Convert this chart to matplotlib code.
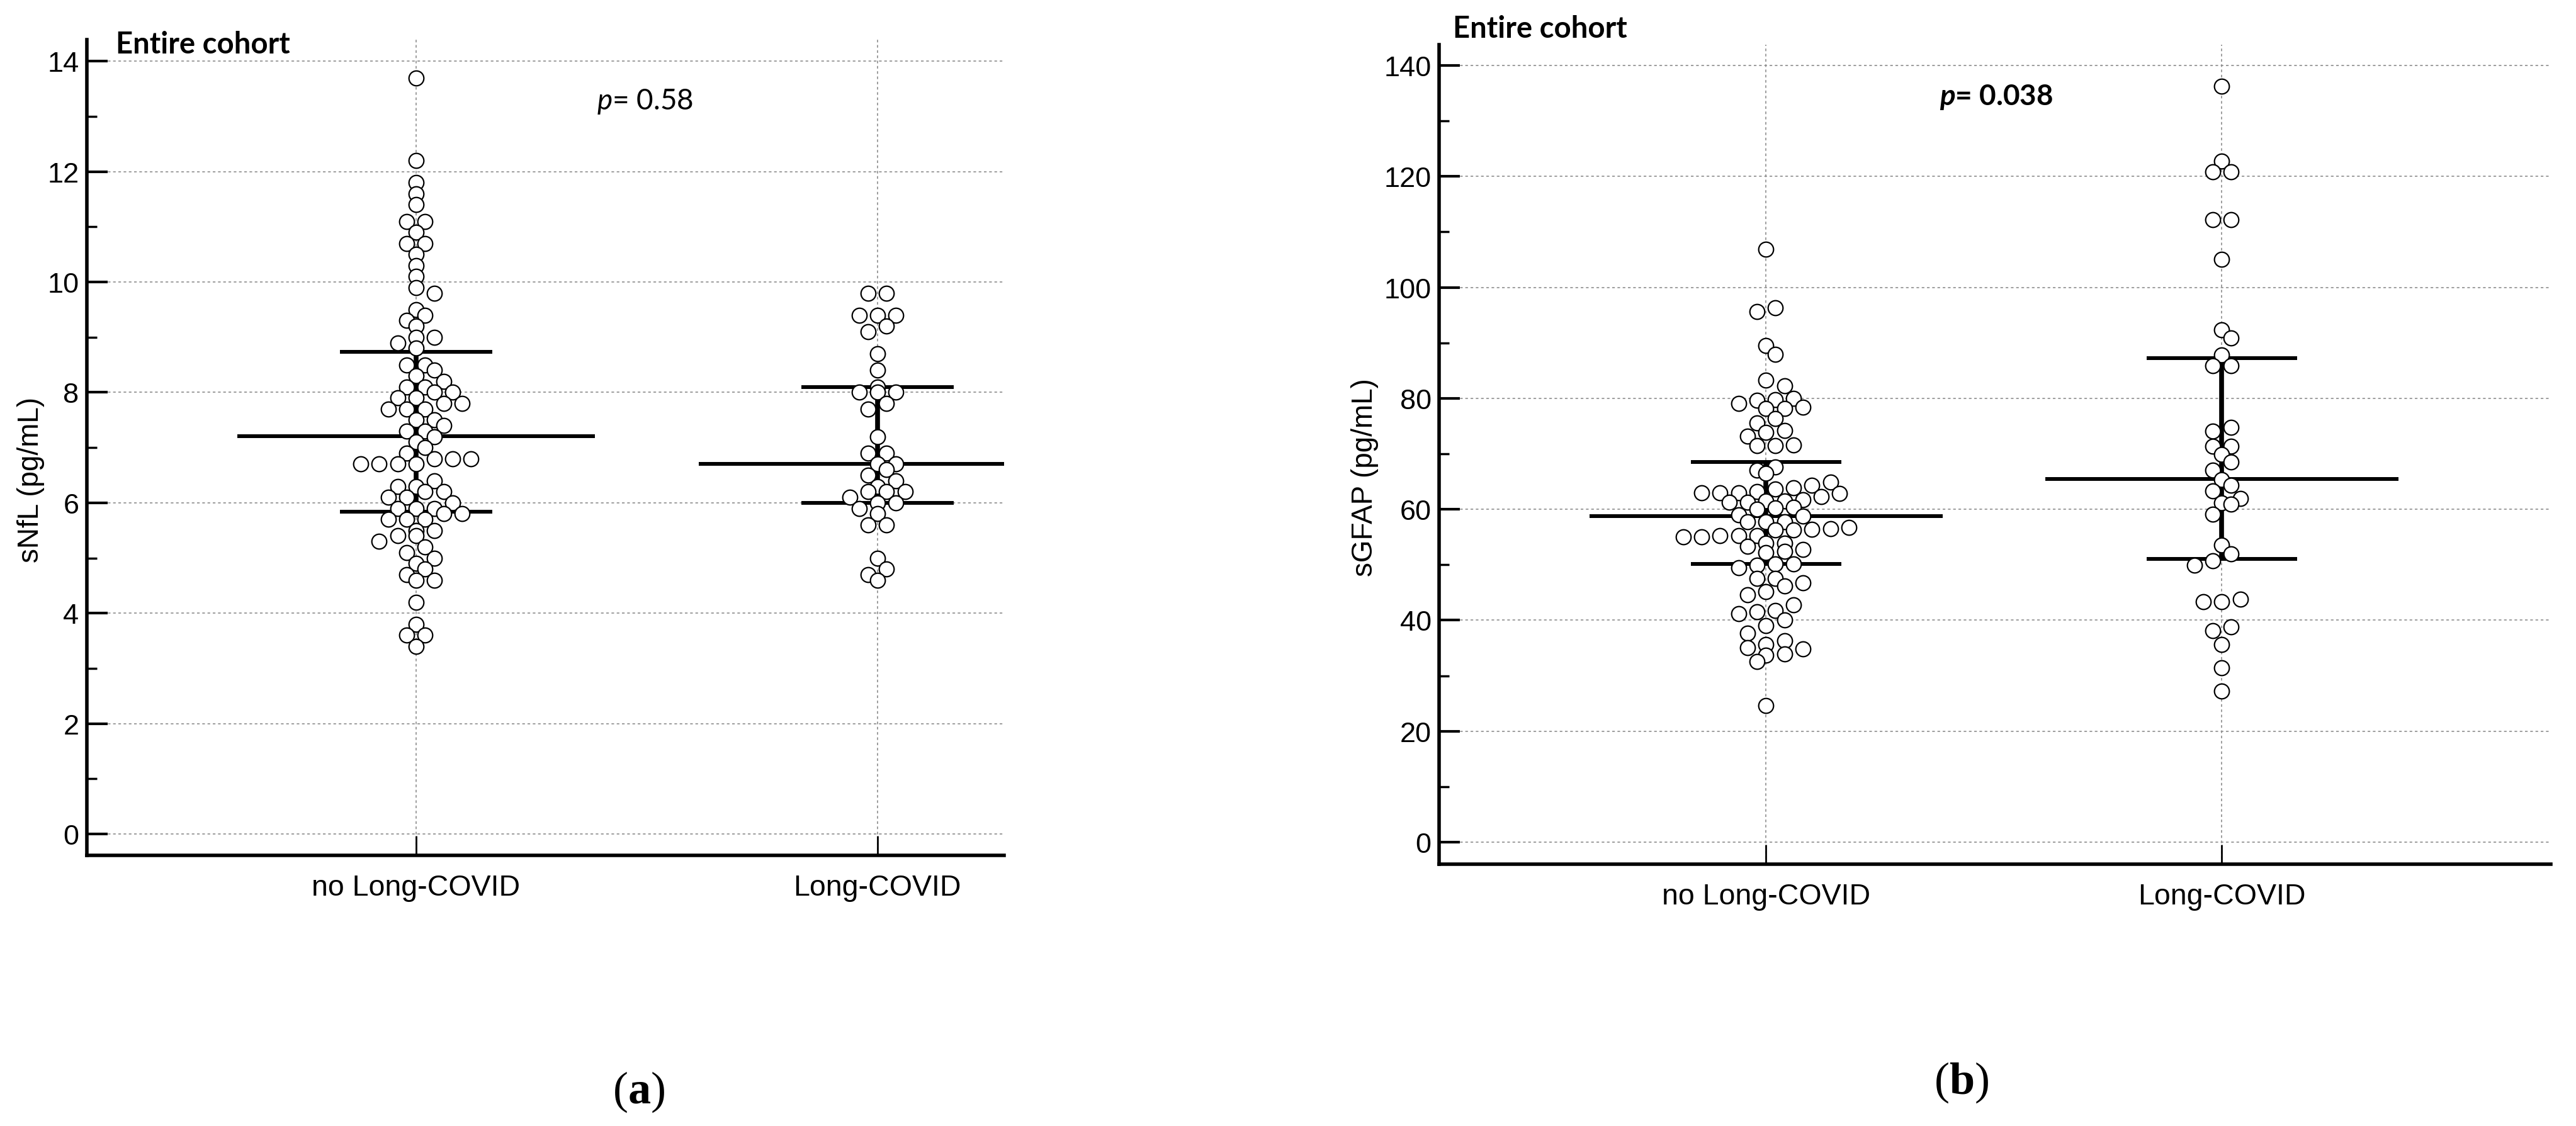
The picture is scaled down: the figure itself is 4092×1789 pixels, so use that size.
"""
sNfL / sGFAP dot plots, Long-COVID vs no Long-COVID (entire cohort)
"""
import matplotlib
matplotlib.use("Agg")
import matplotlib.pyplot as plt
import numpy as np
from matplotlib import rcParams
from matplotlib.ticker import MultipleLocator

rcParams.update({
    "font.family": ["Liberation Sans", "DejaVu Sans"],
    "mathtext.fontset": "custom",
    "mathtext.rm": "Lato",
    "mathtext.it": "Lato:italic",
    "mathtext.bfit": "Lato:italic:bold",
    "mathtext.bf": "Liberation Serif:bold",
})

GROUPS = ["no Long-COVID", "Long-COVID"]

# (a) sNfL, pg/mL
SNFL_NO = [13.7, 12.2, 11.8, 11.6, 11.4, 11.1, 11.1, 10.9, 10.7, 10.7, 10.5, 10.3,
           10.1, 9.9, 9.8, 9.5, 9.4, 9.3, 9.2, 9.0, 9.0, 8.9, 8.8, 8.5, 8.5, 8.4,
           8.3, 8.2, 8.1, 8.1, 8.0, 8.0, 7.9, 7.9, 7.8, 7.8, 7.7, 7.7, 7.7, 7.5,
           7.5, 7.4, 7.3, 7.3, 7.2, 7.1, 7.0, 6.9, 6.8, 6.8, 6.8, 6.7, 6.7, 6.7,
           6.7, 6.4, 6.3, 6.3, 6.2, 6.2, 6.1, 6.1, 6.0, 5.9, 5.9, 5.9, 5.8, 5.8,
           5.7, 5.7, 5.7, 5.5, 5.5, 5.4, 5.4, 5.3, 5.2, 5.1, 5.0, 4.9, 4.8, 4.7,
           4.6, 4.6, 4.2, 3.8, 3.6, 3.6, 3.4]
SNFL_LC = [9.8, 9.8, 9.4, 9.4, 9.4, 9.2, 9.1, 8.7, 8.4, 8.1, 8.0, 8.0, 8.0, 7.8,
           7.7, 7.2, 6.9, 6.9, 6.7, 6.7, 6.6, 6.5, 6.4, 6.3, 6.2, 6.2, 6.2, 6.1,
           6.0, 6.0, 5.9, 5.8, 5.6, 5.6, 5.0, 4.8, 4.7, 4.6]
SNFL_MED = [7.21, 6.71]
SNFL_Q1 = [5.84, 6.00]
SNFL_Q3 = [8.73, 8.10]

# (b) sGFAP, pg/mL
SGFAP_NO = [106.9, 96.3, 95.6, 89.5, 87.9, 83.3, 82.3, 80.0, 79.8, 79.6, 79.1,
            78.4, 78.2, 78.2, 76.4, 75.6, 74.2, 73.8, 73.2, 71.6, 71.5, 71.5,
            67.6, 67.1, 66.5, 64.9, 64.3, 63.9, 63.7, 63.2, 63.0, 63.0, 63.0,
            62.9, 62.3, 61.7, 61.5, 61.5, 61.3, 61.3, 60.3, 60.2, 60.0, 59.0,
            58.8, 57.8, 57.8, 57.8, 56.7, 56.5, 56.4, 56.3, 56.3, 55.2, 55.2,
            55.2, 55.0, 55.0, 53.9, 53.9, 53.3, 52.8, 52.4, 52.2, 50.2, 50.1,
            49.9, 49.5, 47.5, 47.5, 46.7, 46.2, 45.2, 44.6, 42.8, 41.7, 41.5,
            41.2, 40.0, 39.0, 37.7, 36.3, 35.6, 35.0, 34.8, 33.9, 33.7, 32.6, 24.6]
SGFAP_LC = [136.3, 122.7, 120.8, 120.8, 112.2, 112.2, 105.0, 92.4, 90.9, 87.8,
            85.9, 85.9, 74.8, 74.1, 71.4, 71.4, 69.9, 68.5, 67.0, 65.4, 64.3,
            63.3, 61.9, 61.2, 60.9, 59.1, 53.6, 52.0, 50.7, 49.9, 43.8, 43.3,
            43.3, 38.8, 38.1, 35.6, 31.4, 27.2]
SGFAP_MED = [58.8, 65.5]
SGFAP_Q1 = [50.1, 51.0]
SGFAP_Q3 = [68.5, 87.2]

FIG_W, FIG_H, DPI = 40.92, 17.9, 100


def swarm_offsets(vals, bin_w, bin_edge, ppu_y, step=14.6, diam=25.0, shift_cost=6.0):
    """dot-plot layout: values binned in rows, each row centred (low -> high, left -> right),
    row nudged by half a column when that reduces overlap with rows above. px offsets."""
    vals = np.asarray(vals, float)
    bins = np.floor((vals - bin_edge) / bin_w + 1e-9).astype(int)
    offs = np.zeros(len(vals))
    px_all, py_all = [], []
    for b in sorted(set(bins), reverse=True):
        idx = np.where(bins == b)[0]
        idx = idx[np.argsort(vals[idx], kind="stable")]
        n = len(idx)
        base = (np.arange(n) - (n - 1) / 2) * 2 * step
        ys = vals[idx] * ppu_y
        best = None
        for k in (0, 1, -1, 2, -2):
            xs = base + k * step
            cost = shift_cost * abs(k)
            if px_all:
                dist = np.hypot(xs[:, None] - np.array(px_all)[None, :],
                                ys[:, None] - np.array(py_all)[None, :])
                cost += np.clip(diam - dist, 0, None).sum()
            if best is None or cost < best[0] - 1e-9:
                best = (cost, xs)
        offs[idx] = best[1]
        px_all.extend(best[1])
        py_all.extend(ys)
    return offs


def panel(ax, rect, series, med, q1, q3, ylim, xlim, ymaj, bins, ylabel, ylab_xy,
          title_xy, ptext, pxy, pbold):
    ax.set_xlim(*xlim)
    ax.set_ylim(*ylim)
    ppu_x = FIG_W * DPI * rect[2] / (xlim[1] - xlim[0])
    ppu_y = FIG_H * DPI * rect[3] / (ylim[1] - ylim[0])

    for pos, vals in zip([1, 2], series):
        offs = swarm_offsets(vals, bins[0], bins[1], ppu_y)
        ax.scatter(pos + offs / ppu_x, vals, s=17 ** 2, facecolors="white",
                   edgecolors="black", linewidths=1.6, zorder=3)

    pos = np.array([1, 2])
    ax.hlines(med, pos - 0.387, pos + 0.387, color="black", lw=4.3, zorder=2)
    ax.hlines(q1, pos - 0.165, pos + 0.165, color="black", lw=4.3, zorder=2)
    ax.hlines(q3, pos - 0.165, pos + 0.165, color="black", lw=4.3, zorder=2)
    ax.vlines(pos, q1, q3, color="black", lw=5.5, zorder=2)

    for s in ["top", "right"]:
        ax.spines[s].set_visible(False)
    for s in ["left", "bottom"]:
        ax.spines[s].set_linewidth(4)

    ax.set_xticks([1, 2])
    ax.set_xticklabels(GROUPS)
    ax.yaxis.set_major_locator(MultipleLocator(ymaj))
    ax.yaxis.set_minor_locator(MultipleLocator(ymaj / 2))
    ax.tick_params(axis="y", which="major", direction="in", length=24, width=3,
                   pad=9, labelsize=32.5)
    ax.tick_params(axis="y", which="minor", direction="in", length=11.5, width=2.5)
    ax.tick_params(axis="x", which="major", direction="in", length=22, width=2,
                   pad=21, labelsize=33.5)

    ax.set_axisbelow(True)
    ax.grid(True, which="major", color="#8c8c8c", lw=1.2, ls=(0, (2.5, 2.5)))

    ax.set_ylabel(ylabel, fontsize=33, va="center")
    ax.yaxis.set_label_coords(*ylab_xy)

    ax.text(title_xy[0], title_xy[1], "Entire cohort", transform=ax.transAxes,
            family="Lato", fontweight="bold", fontsize=34, va="center", ha="left")
    ax.text(pxy[0], pxy[1], ptext, family="Lato", fontsize=33,
            fontweight="bold" if pbold else "normal", va="baseline", ha="left")


fig = plt.figure(figsize=(FIG_W, FIG_H), dpi=DPI)

rect_a = [0.0337, 0.2402, 0.356, 0.724]
ax1 = fig.add_axes(rect_a)
panel(ax1, rect_a, [SNFL_NO, SNFL_LC], SNFL_MED, SNFL_Q1, SNFL_Q3,
      ylim=(-0.388, 14.39), xlim=(0.2865, 2.274), ymaj=2, bins=(0.2, 0.05),
      ylabel="sNfL (pg/mL)", ylab_xy=(-0.061, 0.461), title_xy=(0.0316, 0.995),
      ptext=r"$\mathit{p}$= 0.58", pxy=(1.392, 13.14), pbold=False)

rect_b = [0.5587, 0.2324, 0.4316, 0.7274]
ax2 = fig.add_axes(rect_b)
panel(ax2, rect_b, [SGFAP_NO, SGFAP_LC], SGFAP_MED, SGFAP_Q1, SGFAP_Q3,
      ylim=(-3.97, 143.74), xlim=(0.283, 2.722), ymaj=20, bins=(2.0, 1.0),
      ylabel="sGFAP (pg/mL)", ylab_xy=(-0.0668, 0.473), title_xy=(0.0125, 1.02),
      ptext=r"$\mathbfit{p}$= 0.038", pxy=(1.381, 133.0), pbold=True)

fig.text(0.248, 0.0307, r"($\mathbf{a}$)", family="Liberation Serif", fontsize=52,
         ha="center", va="center")
fig.text(0.7615, 0.039, r"($\mathbf{b}$)", family="Liberation Serif", fontsize=52,
         ha="center", va="center")

fig.savefig("out.png", dpi=DPI)
